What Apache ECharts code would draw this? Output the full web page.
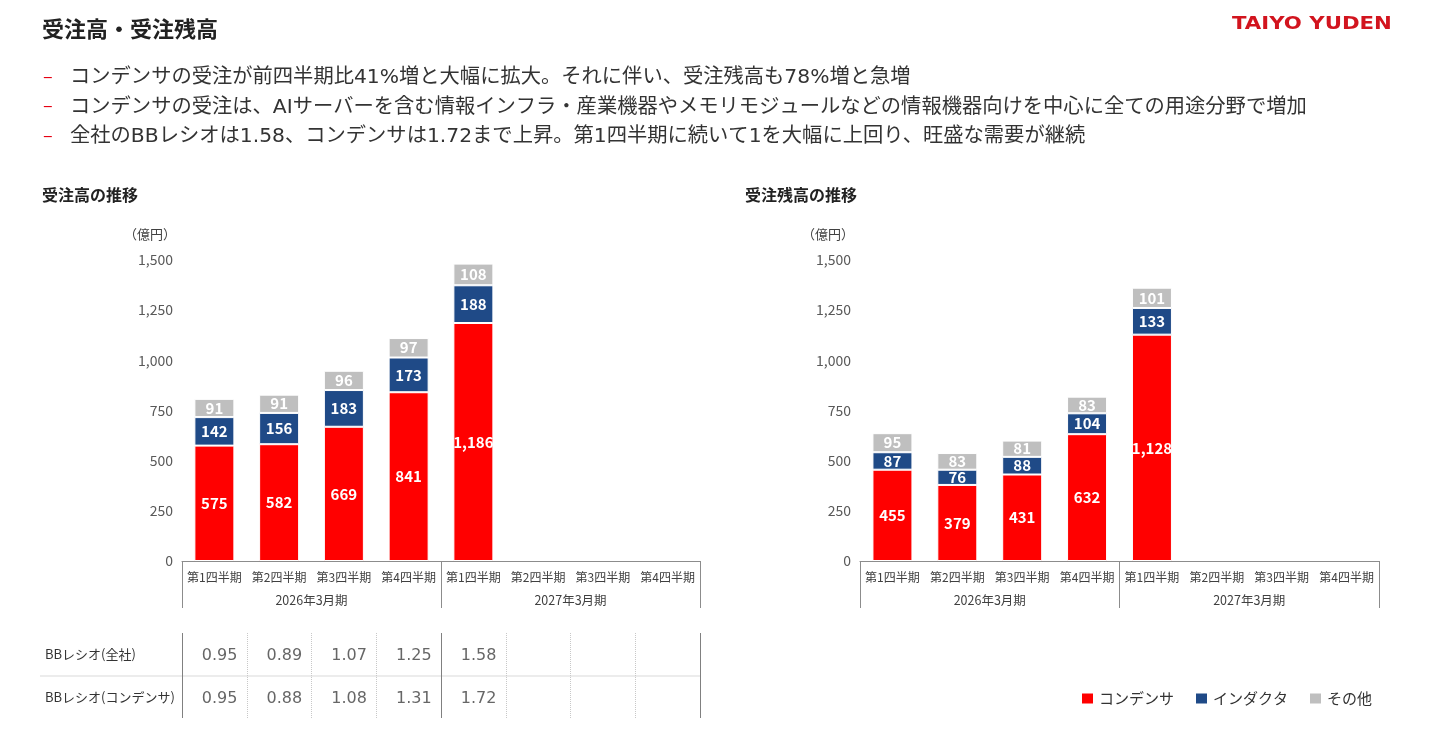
<!DOCTYPE html>
<html>
<head>
<meta charset="utf-8">
<script src="https://cdn.jsdelivr.net/npm/echarts@6/dist/echarts.min.js"></script>
<style>
html, body { margin: 0; padding: 0; background: #fff; }
#main { width: 1436px; height: 751px; }
</style>
</head>
<body>
<div id="main"></div>
<script>
var quarters = ['第1四半期', '第2四半期', '第3四半期', '第4四半期', '第1四半期', '第2四半期', '第3四半期', '第4四半期'];
var fiscalYears = ['2026年3月期', '2027年3月期'];
var seriesNames = ['コンデンサ', 'インダクタ', 'その他'];

// 受注高
var orderCap = [575, 582, 669, 841, 1186, null, null, null];
var orderInd = [142, 156, 183, 173, 188, null, null, null];
var orderOther = [91, 91, 96, 97, 108, null, null, null];

// 受注残高
var backlogCap = [455, 379, 431, 632, 1128, null, null, null];
var backlogInd = [87, 76, 88, 104, 133, null, null, null];
var backlogOther = [95, 83, 81, 83, 101, null, null, null];

// BBレシオ
var tableRows = ['BBレシオ(全社)', 'BBレシオ(コンデンサ)'];
var bbAll = [0.95, 0.89, 1.07, 1.25, 1.58];
var bbCap = [0.95, 0.88, 1.08, 1.31, 1.72];

var pageTitle = '受注高・受注残高';
var bullets = [
    'コンデンサの受注が前四半期比41%増と大幅に拡大。それに伴い、受注残高も78%増と急増',
    'コンデンサの受注は、AIサーバーを含む情報インフラ・産業機器やメモリモジュールなどの情報機器向けを中心に全ての用途分野で増加',
    '全社のBBレシオは1.58、コンデンサは1.72まで上昇。第1四半期に続いて1を大幅に上回り、旺盛な需要が継続'
];

var FONT = '"Noto Sans CJK JP", "Noto Sans", sans-serif';
var MIXED = '"DejaVu Sans", "Noto Sans CJK JP", sans-serif';
var colors = ['#ff0000', '#1f4a87', '#bfbfbf'];

var dom = document.getElementById('main');
var myChart = echarts.init(dom);

function quarterAxis(grid) {
    return {
        type: 'category', gridIndex: grid, data: quarters, position: 'bottom',
        axisLine: {lineStyle: {color: '#8c8c8c'}},
        axisTick: {show: false},
        axisLabel: {interval: 0, margin: 10, fontSize: 12, color: '#404040', fontFamily: FONT}
    };
}
function yearAxis(grid) {
    return {
        type: 'category', gridIndex: grid, data: fiscalYears, position: 'bottom',
        axisLine: {show: false},
        axisTick: {show: true, interval: 0, length: 47, lineStyle: {color: '#8c8c8c'}},
        axisLabel: {interval: 0, margin: 33, fontSize: 12.5, color: '#404040', fontFamily: FONT}
    };
}
function valueAxis(grid) {
    return {
        type: 'value', gridIndex: grid, min: 0, max: 1500, interval: 250,
        name: '（億円）', nameLocation: 'end', nameGap: 19,
        nameTextStyle: {align: 'right', padding: [0, 6, 0, 0], fontSize: 13, color: '#404040', fontFamily: FONT},
        axisLine: {show: false}, axisTick: {show: false}, splitLine: {show: false},
        axisLabel: {
            margin: 9, fontSize: 14, color: '#595959', fontFamily: FONT,
            formatter: function (v) { return v.toLocaleString('en-US'); }
        }
    };
}
function barSeries(name, data, idx, xi, yi, stack) {
    return {
        type: 'bar', name: name, data: data, stack: stack,
        xAxisIndex: xi, yAxisIndex: yi, barWidth: 40,
        itemStyle: {color: colors[idx], borderColor: '#fff', borderWidth: 1},
        label: {
            show: true, position: 'inside', color: '#fff', fontWeight: 'bold',
            fontSize: 15, fontFamily: FONT,
            formatter: function (p) { return p.value == null ? '' : p.value.toLocaleString('en-US'); }
        }
    };
}

var tableData = [];
bbAll.forEach(function (v, i) { tableData.push([i, 0, v]); });
bbCap.forEach(function (v, i) { tableData.push([i, 1, v]); });

var graphics = [
    {type: 'text', left: 42, top: 18, style: {text: pageTitle, font: 'bold 22px ' + FONT, fill: '#222'}},
    {type: 'text', x: 1232, y: 16, scaleX: 1.25, style: {text: 'TAIYO YUDEN', font: 'bold 17px "DejaVu Sans"', fill: '#d2141e'}},
    {type: 'text', left: 42, top: 187, style: {text: '受注高の推移', font: 'bold 16px ' + FONT, fill: '#222'}},
    {type: 'text', left: 745, top: 187, style: {text: '受注残高の推移', font: 'bold 16px ' + FONT, fill: '#222'}},
    {type: 'line', shape: {x1: 40, y1: 676, x2: 700, y2: 676}, style: {stroke: '#d9d9d9', lineWidth: 1}}
];
bullets.forEach(function (t, i) {
    var y = 78 + i * 29.5;
    graphics.push({type: 'text', x: 43, y: y - 2, style: {text: '–', font: '18px ' + FONT, fill: '#e60012', verticalAlign: 'middle'}});
    graphics.push({type: 'text', x: 70, y: y, style: {text: t, font: '20.3px ' + MIXED, fill: '#333', verticalAlign: 'middle'}});
});

option = {
    backgroundColor: '#ffffff',
    animation: false,
    textStyle: {fontFamily: FONT},
    graphic: graphics,
    legend: {
        data: seriesNames, left: 1080, top: 691, padding: 0,
        icon: 'rect', itemWidth: 13, itemHeight: 12, itemGap: 20,
        textStyle: {fontSize: 15, color: '#333', fontFamily: FONT}
    },
    grid: [
        {left: 182, right: 736, top: 260, bottom: 190, outerBoundsMode: 'none'},
        {left: 860, right: 57, top: 260, bottom: 190, outerBoundsMode: 'none'},
        {left: 182, right: 736, top: 633, height: 85, outerBoundsMode: 'none'}
    ],
    xAxis: [
        quarterAxis(0), yearAxis(0),
        quarterAxis(1), yearAxis(1),
        {
            type: 'category', gridIndex: 2, data: quarters,
            axisLine: {show: false}, axisTick: {show: false}, axisLabel: {show: false},
            splitLine: {show: true, interval: 0, lineStyle: {color: '#c8c8c8', type: 'dotted'}}
        },
        {
            type: 'category', gridIndex: 2, data: fiscalYears,
            axisLine: {show: false}, axisTick: {show: false}, axisLabel: {show: false},
            splitLine: {show: true, interval: 0, lineStyle: {color: '#808080', width: 1}}
        }
    ],
    yAxis: [
        valueAxis(0), valueAxis(1),
        {
            type: 'category', gridIndex: 2, data: tableRows, inverse: true,
            axisLine: {show: false}, axisTick: {show: false}, splitLine: {show: false},
            axisLabel: {align: 'left', margin: 137, fontSize: 13, color: '#333', fontFamily: FONT}
        }
    ],
    series: [
        barSeries(seriesNames[0], orderCap, 0, 0, 0, 'order'),
        barSeries(seriesNames[1], orderInd, 1, 0, 0, 'order'),
        barSeries(seriesNames[2], orderOther, 2, 0, 0, 'order'),
        barSeries(seriesNames[0], backlogCap, 0, 2, 1, 'backlog'),
        barSeries(seriesNames[1], backlogInd, 1, 2, 1, 'backlog'),
        barSeries(seriesNames[2], backlogOther, 2, 2, 1, 'backlog'),
        {
            type: 'scatter', xAxisIndex: 4, yAxisIndex: 2, symbolSize: 0,
            data: tableData,
            label: {
                show: true, position: 'inside', align: 'right', offset: [23, 2],
                fontSize: 16, color: '#404040', fontFamily: '"DejaVu Sans", sans-serif',
                formatter: function (p) { return p.value[2].toFixed(2); }
            }
        }
    ]
};

if (option && typeof option === "object") {
    myChart.setOption(option, true);
}
</script>
</body>
</html>
